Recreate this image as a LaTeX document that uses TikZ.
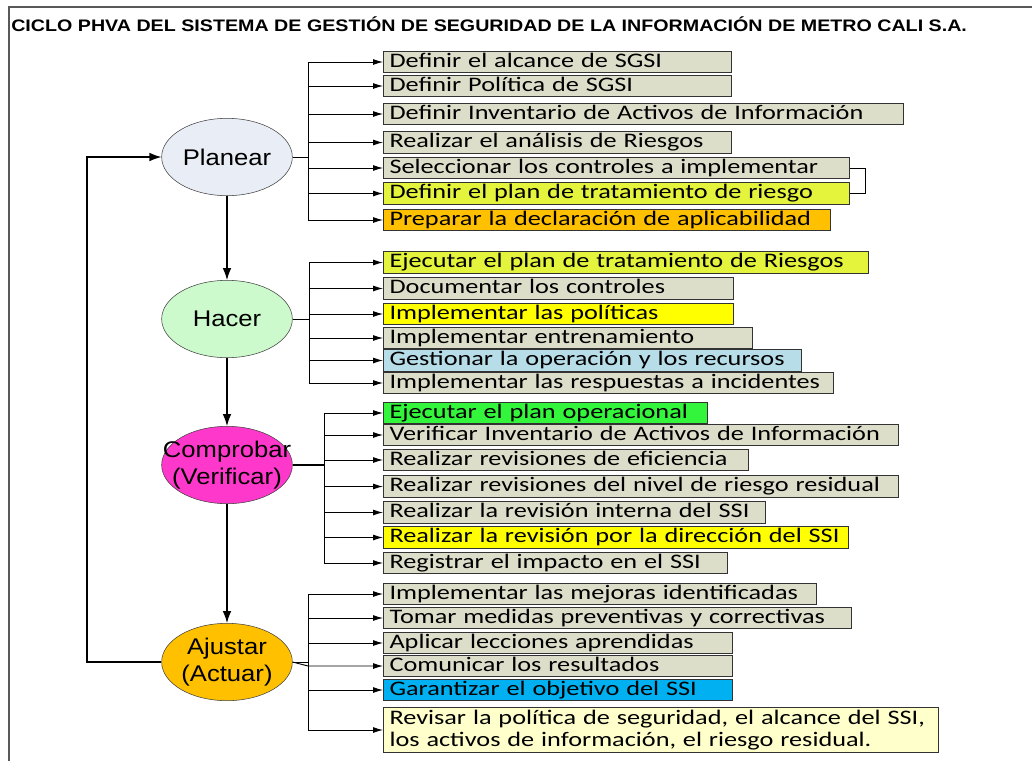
\documentclass[tikz,border=0pt]{standalone}
\usepackage{fontspec}
\setmainfont{Liberation Sans}
\newfontfamily\fuenteTitulo[FakeStretch=1.18]{Liberation Sans}
\newfontfamily\fuenteFase[FakeStretch=1.13]{Liberation Sans}
\newfontfamily\fuenteTarea[FakeStretch=1.27]{Carlito}
\usetikzlibrary{positioning, shapes.geometric, arrows.meta, calc}

\definecolor{grisTarea}{HTML}{DDDECA}
\definecolor{limaTarea}{HTML}{E4F43C}
\definecolor{naranja}{HTML}{FFC000}
\definecolor{amarillo}{HTML}{FFFF00}
\definecolor{celeste}{HTML}{B7DDE8}
\definecolor{verde}{HTML}{33F53C}
\definecolor{azul}{HTML}{00B0F0}
\definecolor{crema}{HTML}{FFFFCC}
\definecolor{planearC}{HTML}{E9EDF5}
\definecolor{hacerC}{HTML}{CCFACC}
\definecolor{comprobarC}{HTML}{FF38CC}

\begin{document}
\begin{tikzpicture}[
    % GLOBAL CFG
    x=0.75pt, y=-0.75pt,
    >={Latex[length=7.5pt,width=4.5pt]},
    % Styles
    fase/.style={% For the four PHVA phases
        ellipse,
        draw=black!75,
        inner sep=0pt,
        minimum width=98pt,
        minimum height=58pt,
        align=center,
        font=\fuenteFase\fontsize{17}{20}\selectfont,
        },
    tarea/.style={% For the activity boxes
        rectangle,
        draw=black!80,
        line width=0.8pt,
        anchor=west,
        inner xsep=4.5pt,
        inner ysep=0.6pt,
        text height=11.2pt,
        text depth=3.6pt,
        align=left,
        font=\fuenteTarea\fontsize{15.5}{16}\selectfont,
        },
    flecha/.style={% Arrows between phases
        -{Latex[length=9pt,width=6.5pt]},
        line width=0.9pt,
        },
    rama/.style={% Arrows to the activities
        ->,
        line width=0.7pt,
        },
    marco/.style={% Page frame
        draw=black!65,
        line width=1.2pt,
        },
    ]
% Box with left edge at x=383: name, center y, right x, fill, text
\newcommand{\Tarea}[5]{
    \pgfmathsetmacro{\anchoT}{(#3-383)*0.75-9}
    \node [tarea, fill=#4, text width=\anchoT pt] (#1) at (383,#2) {#5};
}
\useasboundingbox (0,0) rectangle (1032,761);
\draw [marco] (9,761) -- (9,7) -- (1032,7);
\node [anchor=base west, inner sep=0pt, font=\fuenteTitulo\bfseries\fontsize{12.5}{14}\selectfont] (titulo) at (11,31)
    {CICLO PHVA DEL SISTEMA DE GESTIÓN DE SEGURIDAD DE LA INFORMACIÓN DE METRO CALI S.A.};

% Phases
\node [fase, fill=planearC] (planear) at (227,157) {Planear};
\node [fase, fill=hacerC] (hacer) at (227,319) {Hacer};
\node [fase, fill=comprobarC] (comprobar) at (227,465) {\makebox[0pt]{Comprobar}\\\makebox[0pt]{(Verificar)}};
\node [fase, fill=naranja] (ajustar) at (227,662) {Ajustar\\(Actuar)};

% Planear activities
\Tarea{p1}{62}{731}{grisTarea}{Definir el alcance de SGSI}
\Tarea{p2}{86}{731}{grisTarea}{Definir Política de SGSI}
\Tarea{p3}{114}{903}{grisTarea}{Definir Inventario de Activos de Información}
\Tarea{p4}{142.5}{731}{grisTarea}{Realizar el análisis de Riesgos}
\Tarea{p5}{168}{849}{grisTarea}{Seleccionar los controles a implementar}
\Tarea{p6}{193.5}{849}{limaTarea}{Definir el plan de tratamiento de riesgo}
\Tarea{p7}{220}{830}{naranja}{Preparar la declaración de aplicabilidad}

% Hacer activities
\Tarea{h1}{262.5}{868}{limaTarea}{Ejecutar el plan de tratamiento de Riesgos}
\Tarea{h2}{288.5}{733}{grisTarea}{Documentar los controles}
\Tarea{h3}{314}{733}{amarillo}{Implementar las políticas}
\Tarea{h4}{338}{752}{grisTarea}{Implementar entrenamiento}
\Tarea{h5}{360.5}{801}{celeste}{Gestionar la operación y los recursos}
\Tarea{h6}{383}{833}{grisTarea}{Implementar las respuestas a incidentes}

% Comprobar activities
\Tarea{c1}{413}{707}{verde}{Ejecutar el plan operacional}
\Tarea{c2}{435}{898}{grisTarea}{Verificar Inventario de Activos de Información}
\Tarea{c3}{460}{748}{grisTarea}{Realizar revisiones de eficiencia}
\Tarea{c4}{486.5}{898}{grisTarea}{Realizar revisiones del nivel de riesgo residual}
\Tarea{c5}{512.5}{765}{grisTarea}{Realizar la revisión interna del SSI}
\Tarea{c6}{537.5}{848}{amarillo}{Realizar la revisión por la dirección del SSI}
\Tarea{c7}{563}{727}{grisTarea}{Registrar el impacto en el SSI}

% Ajustar activities
\Tarea{a1}{594}{816}{grisTarea}{Implementar las mejoras identificadas}
\Tarea{a2}{618}{851}{grisTarea}{Tomar medidas preventivas y correctivas}
\Tarea{a3}{643}{732}{grisTarea}{Aplicar lecciones aprendidas}
\Tarea{a4}{666}{732}{grisTarea}{Comunicar los resultados}
\Tarea{a5}{690}{732}{azul}{Garantizar el objetivo del SSI}
\node [tarea, fill=crema, text width=407pt, text height=, text depth=, inner ysep=2pt] (a6) at (383,730)
    {Revisar la política de seguridad, el alcance del SSI,\\los activos de información, el riesgo residual.};

% Cycle
\draw [flecha] (planear) -- (hacer);
\draw [flecha] (hacer) -- (comprobar);
\draw [flecha] (comprobar) -- (ajustar);
\coordinate (retorno) at (87,662);
\draw [flecha] (ajustar.west) -- (retorno) |- (planear.west);

% Branches
\coordinate (bP) at (308,157);
\draw [line width=0.7pt] (planear.east) -- (bP);
\foreach \i in {1,...,7}
    \draw [rama] (bP) |- (p\i.west);
\draw [line width=0.7pt] (p5.east) -- ++(15,0) |- (p6.east);

\coordinate (bH) at (309,319);
\draw [line width=0.7pt] (hacer.east) -- (bH);
\foreach \i in {1,...,6}
    \draw [rama] (bH) |- (h\i.west);

\coordinate (bC) at (324,465);
\draw [line width=1.4pt] (comprobar.east) -- (bC);
\foreach \i in {1,...,7}
    \draw [rama] (bC) |- (c\i.west);

\coordinate (bA) at (308,662);
\draw [line width=0.7pt] (ajustar.east) -- (bA);
\foreach \i in {1,2,3,5,6}
    \draw [rama] (bA) |- (a\i.west);
\draw [rama] (ajustar.east) -- (bA |- a4.west) -- (a4.west);

\end{tikzpicture}
\end{document}
